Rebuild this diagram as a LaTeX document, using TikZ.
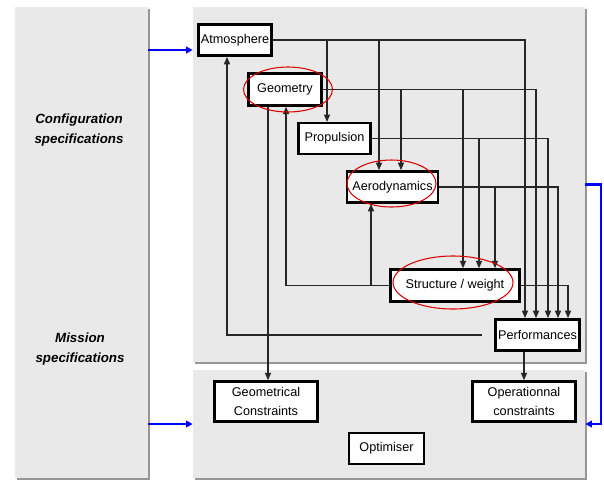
\documentclass[tikz,border=0pt]{standalone}
\usepackage{fontspec}
\setmainfont{Liberation Sans}
\usetikzlibrary{arrows.meta,shadows}

\definecolor{panelgray}{RGB}{233,233,233}
\definecolor{edgegray}{RGB}{150,150,150}

\tikzset{
  panel/.style={rectangle, fill=panelgray, inner sep=0pt,
    general shadow={fill=edgegray, shadow xshift=1.8pt, shadow yshift=-1.8pt}},
  specnote/.style={align=center, font=\fontsize{10}{14.5}\selectfont\bfseries\itshape},
  block/.style={rectangle, draw=black, line width=1.9pt, fill=white, inner sep=0pt,
    align=center, font=\fontsize{9.5}{14}\selectfont},
  ring/.style={draw=red!85!black, line width=0.8pt},
  link/.style={draw=black!85, line width=0.95pt, -{Triangle[length=5.5pt,width=4.5pt]}},
  flow/.style={draw=blue, line width=1.6pt, -{Triangle[length=5pt,width=5pt]}}
}

\begin{document}
\begin{tikzpicture}
  [x=0.75pt,y=-0.75pt]
  \useasboundingbox (0,0) rectangle (604,480);

  % panels
  \node[panel, minimum width=99.75pt, minimum height=353.25pt] (spec) at (81.5,242.5) {};
  \node[panel, minimum width=294pt, minimum height=266.25pt] (analysis) at (389,184.5) {};
  \node[panel, minimum width=294pt, minimum height=81pt] (optim) at (389,424) {};

  \node[specnote] (config) at (79,130) {Configuration\\specifications};
  \node[specnote] (mission) at (80,349) {Mission\\specifications};

  % disciplines
  \node[block, minimum width=55pt, minimum height=23.5pt] (atm) at (235,40) {Atmosphere};
  \node[block, minimum width=55pt, minimum height=24pt] (geo) at (285,89.5) {Geometry};
  \node[block, minimum width=54pt, minimum height=23pt] (prop) at (334.5,138.5) {Propulsion};
  \node[block, minimum width=68pt, minimum height=23.5pt] (aero) at (392.5,187) {Aerodynamics};
  \node[block, minimum width=97pt, minimum height=24pt] (struct) at (455,285.5) {Structure / weight};
  \node[block, minimum width=63pt, minimum height=23.5pt] (perf) at (537.5,335) {Performances};

  \node[block, minimum width=77.5pt, minimum height=30pt] (gcon) at (266,401.5) {Geometrical\\Constraints};
  \node[block, minimum width=77.5pt, minimum height=30pt] (ocon) at (524,401.5) {Operationnal\\constraints};
  \node[block, minimum width=56pt, minimum height=23pt] (opt) at (386.5,448.5) {Optimiser};

  % feed-forward couplings
  \foreach \src/\dst/\xc in {atm/prop/327, atm/aero/379, atm/perf/525,
                             geo/aero/401, geo/struct/463, geo/perf/536,
                             prop/struct/479, prop/perf/548,
                             aero/struct/495, aero/perf/558,
                             struct/perf/568}
    \draw[link] (\src.east) -| (\xc,0 |- \dst.north);

  % feedback couplings
  \draw[link] (struct.west) -| (286,0 |- geo.south);
  \draw[link] (struct.west) -| (371,0 |- aero.south);
  \draw[link, shorten <=9pt] (perf.west) -| (227,0 |- atm.south);

  \draw[link] (268,0 |- geo.south) -- (268,0 |- gcon.north);
  \draw[link] (ocon.north |- perf.south) -- (ocon.north);

  % highlighted disciplines
  \draw[ring] (288,89.5) ellipse [x radius=44.5, y radius=22.5];
  \draw[ring] (391.5,183.5) ellipse [x radius=44.5, y radius=23.5];
  \draw[ring] (453,282.5) ellipse [x radius=60, y radius=26.5];

  % specifications in, loop back
  \draw[flow] (spec.east |- 0,50) -- (analysis.west |- 0,50);
  \draw[flow] (spec.east |- optim.west) -- (optim.west);
  \draw[flow] (analysis.east) -- ++(16,0) |- (optim.east);

\end{tikzpicture}
\end{document}
